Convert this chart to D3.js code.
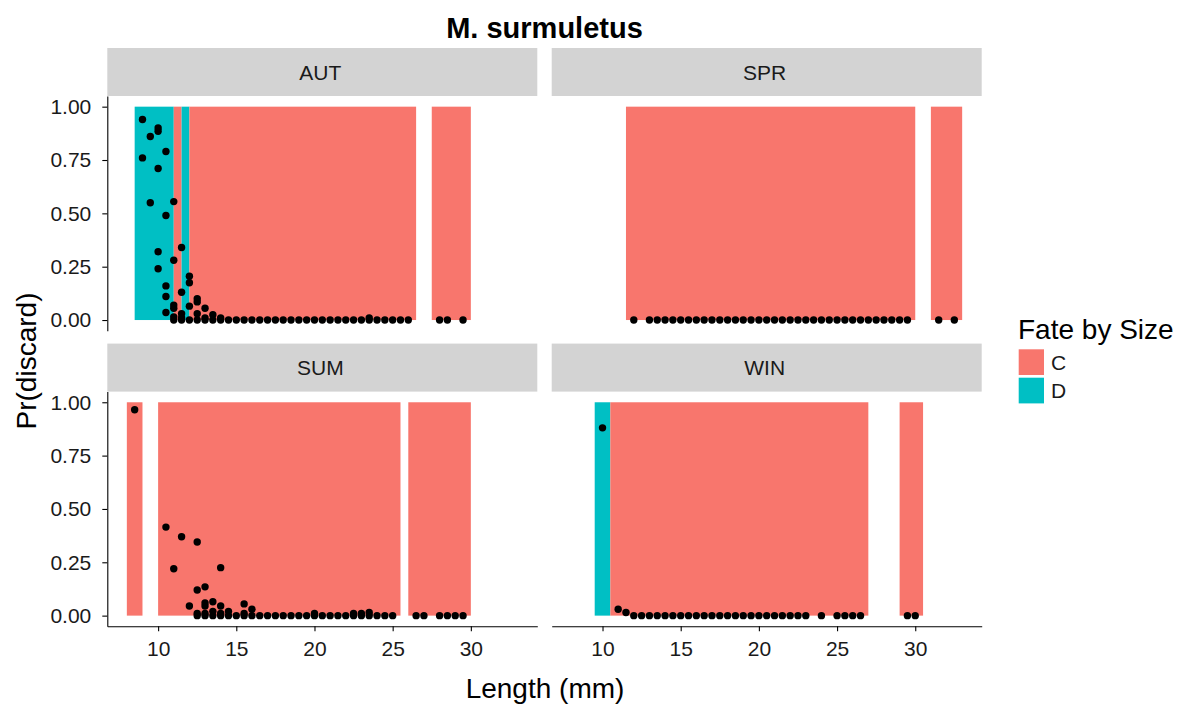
<!DOCTYPE html>
<html lang="en">
<head>
  <meta charset="UTF-8">
  <title>M. surmuletus</title>
  <script src="https://d3js.org/d3.v7.min.js"></script>
  <style>
    body { margin: 0; background: #fff; }
    text { font-family: "Liberation Sans", Arial, sans-serif; }
  </style>
</head>
<body>
<svg id="chart" width="1178" height="705"></svg>
<script>
  // --- data ---
  const plotTitle = "M. surmuletus";
  const seasons = ["AUT", "SPR", "SUM", "WIN"];
  const fateLevels = ["C", "D"];
  const fateColors = ["#F8766D", "#00BFC4"];
  const xTicks = [10, 15, 20, 25, 30];
  const yTicks = [0, 0.25, 0.5, 0.75, 1];

  // fate bands per season: [from length, to length, fate]
  const bandsAUT = [[8.5, 11, "D"], [11, 11.5, "C"], [11.5, 12, "D"], [12, 26.5, "C"], [27.5, 30, "C"]];
  const bandsSPR = [[11.5, 30, "C"], [31, 33, "C"]];
  const bandsSUM = [[8, 9, "C"], [10, 25.5, "C"], [26, 30, "C"]];
  const bandsWIN = [[9.5, 10.5, "D"], [10.5, 27, "C"], [29, 30.5, "C"]];

  // observed discard proportions: [length, Pr(discard)]
  const pointsAUT = [
    [9, 0.94], [9, 0.76], [9.5, 0.86], [9.5, 0.55],
    [10, 0.90], [10, 0.885], [10, 0.71], [10, 0.32], [10, 0.24],
    [10.5, 0.79], [10.5, 0.49], [10.5, 0.16], [10.5, 0.11], [10.5, 0.035],
    [11, 0.555], [11, 0.28], [11, 0.07], [11, 0.055], [11, 0.015],
    [11.5, 0.34], [11.5, 0.13], [11.5, 0.03], [11.5, 0.01],
    [12, 0.205], [12, 0.175], [12, 0.065], [12.5, 0.10], [12.5, 0.085], [12.5, 0.03],
    [13, 0.055], [13, 0.01], [13.5, 0.025], [14, 0.01], [23.5, 0.01]
  ];
  const zerosAUT = [11, 11.5, 12, 12.5, 13, 13.5, 14, 14.5, 15, 15.5, 16, 16.5, 17, 17.5, 18, 18.5,
    19, 19.5, 20, 20.5, 21, 21.5, 22, 22.5, 23, 23.5, 24, 24.5, 25, 25.5, 26, 28, 28.5, 29.5];

  const pointsSPR = [];
  const zerosSPR = [12, 13, 13.5, 14, 14.5, 15, 15.5, 16, 16.5, 17, 17.5, 18, 18.5, 19, 19.5, 20,
    20.5, 21, 21.5, 22, 22.5, 23, 23.5, 24, 24.5, 25, 25.5, 26, 26.5, 27, 27.5, 28, 28.5, 29, 29.5,
    31.5, 32.5];

  const pointsSUM = [
    [8.5, 0.965], [10.5, 0.415], [11, 0.22], [11.5, 0.37], [12, 0.045],
    [12.5, 0.345], [12.5, 0.12], [12.5, 0.01], [13, 0.135], [13, 0.06], [13, 0.045], [13, 0.01],
    [13.5, 0.065], [13.5, 0.02], [14, 0.225], [14, 0.045], [14, 0.01], [14.5, 0.02],
    [15.5, 0.055], [15.5, 0.01], [16, 0.03], [20, 0.01], [22.5, 0.01], [23, 0.01], [23.5, 0.015]
  ];
  const zerosSUM = [12.5, 13, 13.5, 14, 14.5, 15, 15.5, 16, 16.5, 17, 17.5, 18, 18.5, 19, 19.5, 20,
    20.5, 21, 21.5, 22, 22.5, 23, 23.5, 24, 24.5, 25, 26.5, 27, 28, 28.5, 29, 29.5];

  const pointsWIN = [[10, 0.88], [11, 0.03], [11.5, 0.015]];
  const zerosWIN = [12, 12.5, 13, 13.5, 14, 14.5, 15, 15.5, 16, 16.5, 17, 17.5, 18, 18.5, 19, 19.5,
    20, 20.5, 21, 21.5, 22, 22.5, 23, 24, 25, 25.5, 26, 26.5, 29.5, 30];

  const panels = [
    { name: "AUT", col: 0, row: 0, bands: bandsAUT, points: pointsAUT, zeros: zerosAUT },
    { name: "SPR", col: 1, row: 0, bands: bandsSPR, points: pointsSPR, zeros: zerosSPR },
    { name: "SUM", col: 0, row: 1, bands: bandsSUM, points: pointsSUM, zeros: zerosSUM },
    { name: "WIN", col: 1, row: 1, bands: bandsWIN, points: pointsWIN, zeros: zerosWIN }
  ];

  // --- layout ---
  const colX = [[107.3, 537.3], [551.7, 981.7]];
  const rowY = [[96, 330.7], [391.6, 626.3]];
  const stripH = 48;
  const tickFont = 21;
  const titleFont = 28;

  const svg = d3.select("#chart");
  const fill = d3.scaleOrdinal().domain(fateLevels).range(fateColors);

  // ggplot-style 5% expansion of the data range
  const xMin = 8, xMax = 33;
  const xPad = (xMax - xMin) * 0.05;

  panels.forEach(p => {
    const [x0, x1] = colX[p.col];
    const [y0, y1] = rowY[p.row];
    const x = d3.scaleLinear().domain([xMin - xPad, xMax + xPad]).range([x0, x1]);
    const y = d3.scaleLinear().domain([-0.05, 1.05]).range([y1, y0]);

    // strip
    svg.append("rect")
       .attr("x", x0).attr("y", y0 - stripH)
       .attr("width", x1 - x0).attr("height", stripH)
       .attr("fill", "#D3D3D3");
    svg.append("text")
       .attr("x", (x0 + x1) / 2 - 2).attr("y", y0 - stripH / 2)
       .attr("text-anchor", "middle").attr("dominant-baseline", "central")
       .attr("font-size", tickFont).attr("fill", "#1A1A1A")
       .text(p.name);

    const g = svg.append("g");

    g.selectAll("rect.band")
     .data(p.bands)
     .join("rect")
     .attr("class", "band")
     .attr("x", d => x(d[0]))
     .attr("width", d => x(d[1]) - x(d[0]))
     .attr("y", y(1))
     .attr("height", y(0) - y(1))
     .attr("fill", d => fill(d[2]));

    const pts = p.zeros.map(l => [l, 0]).concat(p.points);
    g.selectAll("circle")
     .data(pts)
     .join("circle")
     .attr("cx", d => x(d[0]))
     .attr("cy", d => y(d[1]))
     .attr("r", 3.7)
     .attr("fill", "#000");

    // y axis on left column
    if (p.col === 0) {
      const ay = svg.append("g")
        .attr("transform", `translate(${x0},0)`)
        .call(d3.axisLeft(y).tickValues(yTicks).tickFormat(d3.format(".2f"))
                .tickSize(5).tickSizeOuter(0).tickPadding(11));
      ay.select(".domain").attr("stroke-width", 1.1);
      ay.selectAll(".tick line").attr("stroke-width", 1.1);
      ay.selectAll("text").attr("font-size", tickFont).attr("fill", "#1A1A1A")
        .style("font-family", '"Liberation Sans", Arial, sans-serif');
    }
    // x axis on bottom row
    if (p.row === 1) {
      const ax = svg.append("g")
        .attr("transform", `translate(0,${y1})`)
        .call(d3.axisBottom(x).tickValues(xTicks)
                .tickSize(5).tickSizeOuter(0).tickPadding(10));
      ax.select(".domain").attr("stroke-width", 1.1);
      ax.selectAll(".tick line").attr("stroke-width", 1.1);
      ax.selectAll("text").attr("font-size", tickFont).attr("fill", "#1A1A1A")
        .style("font-family", '"Liberation Sans", Arial, sans-serif');
    }
  });

  // titles
  svg.append("text")
     .attr("x", 544.5).attr("y", 38)
     .attr("text-anchor", "middle")
     .attr("font-size", 29).attr("font-weight", "bold")
     .text(plotTitle);

  svg.append("text")
     .attr("x", 545).attr("y", 698)
     .attr("text-anchor", "middle")
     .attr("font-size", titleFont)
     .text("Length (mm)");

  svg.append("text")
     .attr("transform", "translate(36,361) rotate(-90)")
     .attr("text-anchor", "middle")
     .attr("font-size", titleFont)
     .text("Pr(discard)");

  // legend
  const legend = svg.append("g").attr("transform", "translate(1018,0)");
  legend.append("text")
        .attr("x", 0).attr("y", 339)
        .attr("font-size", titleFont)
        .text("Fate by Size");
  const keys = legend.selectAll("g.key")
        .data(fateLevels)
        .join("g")
        .attr("class", "key")
        .attr("transform", (d, i) => `translate(0,${349.3 + i * 28.4})`);
  keys.append("rect")
      .attr("x", 0.7).attr("y", 0)
      .attr("width", 25.3).attr("height", 25.7)
      .attr("fill", d => fill(d));
  keys.append("text")
      .attr("x", 33).attr("y", 12.9)
      .attr("dominant-baseline", "central")
      .attr("font-size", tickFont).attr("fill", "#1A1A1A")
      .text(d => d);
</script>
</body>
</html>
